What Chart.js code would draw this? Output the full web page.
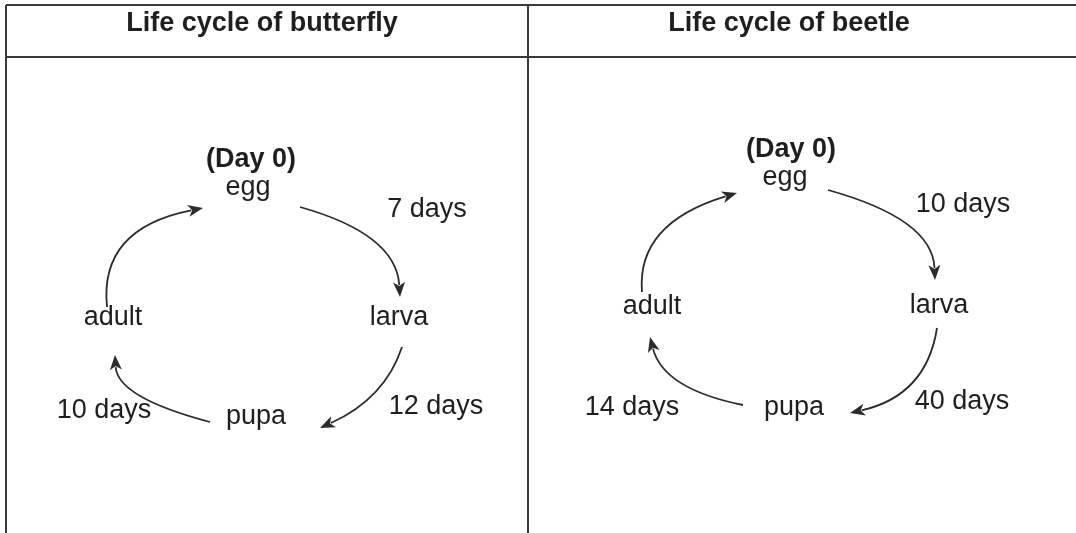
<!DOCTYPE html>
<html>
<head>
<meta charset="utf-8">
<script src="https://cdn.jsdelivr.net/npm/chart.js@4"></script>
<style>
  body { margin: 0; background: #fff; }
  #wrap { width: 1076px; height: 533px; }
</style>
</head>
<body>
<div id="wrap"><canvas id="cycle"></canvas></div>
<script>
// diagram space is the picture itself: x 0..1076, y 0..533 (down)
const panelTitles = ['Life cycle of butterfly', 'Life cycle of beetle'];
const titleX = [262, 789];
const titleY = [24, 24];

const stages = ['(Day 0)', 'egg', 'larva', 'pupa', 'adult'];
const butterflyStageX = [251, 248, 399, 256, 113];
const butterflyStageY = [160, 188, 318, 417, 318];
const beetleStageX = [791, 785, 939, 794, 652];
const beetleStageY = [150, 178, 306, 408, 307];

const butterflyDays = ['7 days', '12 days', '10 days'];
const butterflyDaysX = [427, 436, 104];
const butterflyDaysY = [210, 407, 411];
const beetleDays = ['10 days', '40 days', '14 days'];
const beetleDaysX = [963, 962, 632];
const beetleDaysY = [205, 402, 408];

// arrows: start, a point on the way, end (egg->larva, larva->pupa, pupa->adult, adult->egg)
const butterflyArrows = [
  [[300, 207], [373, 243], [400, 297]],
  [[402, 347], [373, 393], [320, 428]],
  [[210, 422], [140, 393], [115, 355]],
  [[107, 307], [127, 243], [203, 208]]
];
const beetleArrows = [
  [[828, 190], [907, 227], [935, 280]],
  [[937, 328], [910, 383], [850, 413]],
  [[743, 405], [680, 380], [650, 337]],
  [[642, 292], [663, 233], [737, 193]]
];

// table rules
const hRules = [[6, 1076, 5], [6, 1076, 57]];
const vRules = [[6, 5, 533], [528, 5, 533]];

const textColor = '#1f1f1f';
const lineColor = '#2b2b2b';

function pts(xs, ys) { return xs.map((x, i) => ({ x: x, y: ys[i] })); }

const datasets = [
  { kind: 'text', bold: true, texts: panelTitles, data: pts(titleX, titleY) },
  { kind: 'text', boldFirst: true, texts: stages, data: pts(butterflyStageX, butterflyStageY) },
  { kind: 'text', boldFirst: true, texts: stages, data: pts(beetleStageX, beetleStageY) },
  { kind: 'text', texts: butterflyDays, data: pts(butterflyDaysX, butterflyDaysY) },
  { kind: 'text', texts: beetleDays, data: pts(beetleDaysX, beetleDaysY) }
];
butterflyArrows.concat(beetleArrows).forEach(a => {
  datasets.push({ kind: 'arrow', data: a.map(p => ({ x: p[0], y: p[1] })) });
});
hRules.forEach(r => datasets.push({ kind: 'rule', data: [{ x: r[0], y: r[2] }, { x: r[1], y: r[2] }] }));
vRules.forEach(r => datasets.push({ kind: 'rule', data: [{ x: r[0], y: r[1] }, { x: r[0], y: r[2] }] }));

datasets.forEach(d => {
  d.pointRadius = 0;
  d.showLine = false;
});

const diagramPlugin = {
  id: 'diagram',
  afterDatasetsDraw(chart) {
    const ctx = chart.ctx;
    ctx.save();
    chart.data.datasets.forEach((ds, di) => {
      const pp = chart.getDatasetMeta(di).data;
      if (ds.kind === 'rule') {
        ctx.strokeStyle = '#3a3a3a';
        ctx.lineWidth = 2;
        ctx.beginPath();
        ctx.moveTo(pp[0].x, pp[0].y);
        ctx.lineTo(pp[1].x, pp[1].y);
        ctx.stroke();
      } else if (ds.kind === 'arrow') {
        const s = pp[0], m = pp[1], e = pp[2];
        const cx = 2 * m.x - (s.x + e.x) / 2;
        const cy = 2 * m.y - (s.y + e.y) / 2;
        const ang = Math.atan2(e.y - cy, e.x - cx);
        const len = 15, half = 6;
        const bx = e.x - len * Math.cos(ang), by = e.y - len * Math.sin(ang);
        ctx.strokeStyle = lineColor;
        ctx.lineWidth = 1.8;
        ctx.beginPath();
        ctx.moveTo(s.x, s.y);
        ctx.quadraticCurveTo(cx, cy, bx + 3 * Math.cos(ang), by + 3 * Math.sin(ang));
        ctx.stroke();
        ctx.fillStyle = lineColor;
        ctx.beginPath();
        ctx.moveTo(e.x, e.y);
        ctx.lineTo(bx + half * Math.sin(ang), by - half * Math.cos(ang));
        ctx.lineTo(bx + 4 * Math.cos(ang), by + 4 * Math.sin(ang));
        ctx.lineTo(bx - half * Math.sin(ang), by + half * Math.cos(ang));
        ctx.closePath();
        ctx.fill();
      } else if (ds.kind === 'text') {
        ctx.fillStyle = textColor;
        ctx.textAlign = 'center';
        ctx.textBaseline = 'middle';
        pp.forEach((p, i) => {
          const bold = ds.bold || (ds.boldFirst && i === 0);
          ctx.font = (bold ? 'bold ' : '') + '27px "Liberation Sans", Arial, sans-serif';
          ctx.fillText(ds.texts[i], p.x, p.y);
        });
      }
    });
    ctx.restore();
  }
};

new Chart(document.getElementById('cycle'), {
  type: 'scatter',
  data: { datasets: datasets },
  options: {
    responsive: true,
    maintainAspectRatio: false,
    animation: false,
    events: [],
    layout: { padding: 0 },
    plugins: { legend: { display: false }, tooltip: { enabled: false } },
    scales: {
      x: { type: 'linear', min: 0, max: 1076, display: false },
      y: { type: 'linear', min: 0, max: 533, reverse: true, display: false }
    }
  },
  plugins: [diagramPlugin]
});
</script>
</body>
</html>
